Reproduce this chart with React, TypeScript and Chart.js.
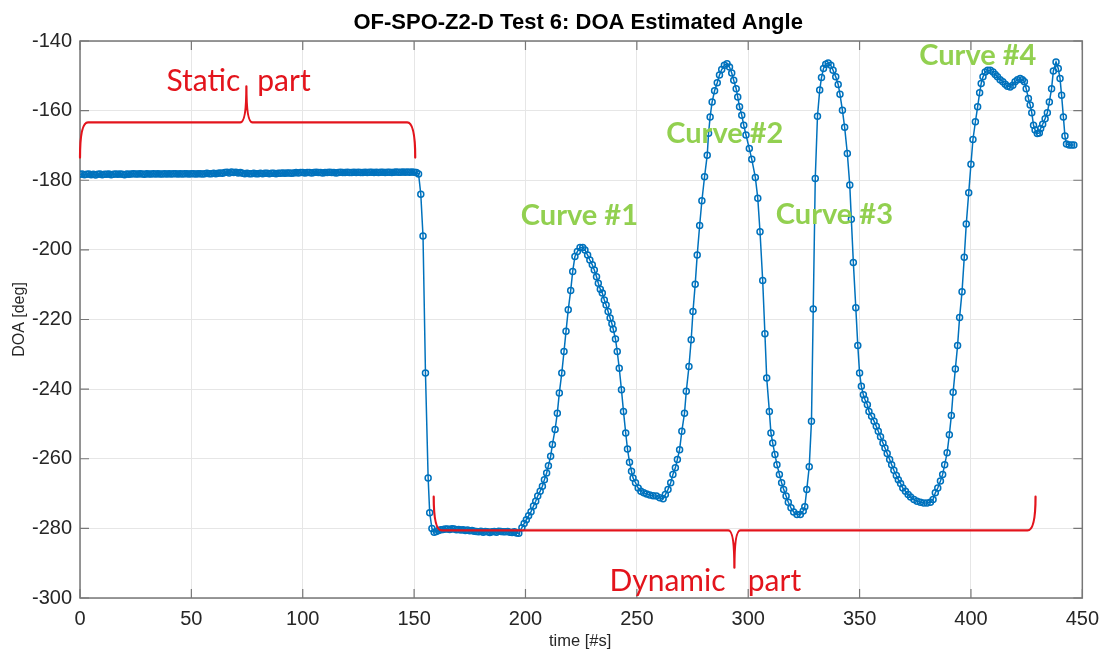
import React, { useEffect, useRef } from 'react';
import { Chart, registerables } from 'chart.js';

Chart.register(...registerables);

const chartTitle = 'OF-SPO-Z2-D Test 6: DOA Estimated Angle';
const xAxisTitle = 'time [#s]';
const yAxisTitle = 'DOA [deg]';
const xTicks = [0, 50, 100, 150, 200, 250, 300, 350, 400, 450];
const yTicks = [-300, -280, -260, -240, -220, -200, -180, -160, -140];

// Static part (one sample per second)
const staticTimes = [
  0, 1, 2, 3, 4, 5, 6, 7, 8, 9, 10, 11, 12, 13, 14, 15, 16, 17, 18, 19,
  20, 21, 22, 23, 24, 25, 26, 27, 28, 29, 30, 31, 32, 33, 34, 35, 36, 37, 38, 39,
  40, 41, 42, 43, 44, 45, 46, 47, 48, 49, 50, 51, 52, 53, 54, 55, 56, 57, 58, 59,
  60, 61, 62, 63, 64, 65, 66, 67, 68, 69, 70, 71, 72, 73, 74, 75, 76, 77, 78, 79,
  80, 81, 82, 83, 84, 85, 86, 87, 88, 89, 90, 91, 92, 93, 94, 95, 96, 97, 98, 99,
  100, 101, 102, 103, 104, 105, 106, 107, 108, 109, 110, 111, 112, 113, 114, 115, 116, 117, 118, 119,
  120, 121, 122, 123, 124, 125, 126, 127, 128, 129, 130, 131, 132, 133, 134, 135, 136, 137, 138, 139,
  140, 141, 142, 143, 144, 145, 146, 147, 148, 149, 150, 151, 152,
];
const staticDoa = [
  -178.3, -178.2, -178.4, -178.3, -178.2, -178.4, -178.3, -178.5, -178.3, -178.2,
  -178.4, -178.3, -178.3, -178.2, -178.4, -178.3, -178.2, -178.3, -178.2, -178.3,
  -178.4, -178.2, -178.3, -178.2, -178.1, -178.2, -178.2, -178.1, -178.2, -178.3,
  -178.1, -178.2, -178.2, -178.1, -178.2, -178.1, -178.2, -178.2, -178.1, -178.2,
  -178.1, -178.2, -178.1, -178.1, -178.2, -178.1, -178.2, -178.1, -178.1, -178.2,
  -178.1, -178.1, -178.2, -178.1, -178.1, -178.2, -178.1, -178.0, -178.1, -178.1,
  -178.0, -178.1, -178.0, -177.9, -178.0, -177.8, -177.7, -177.9, -177.6, -177.8,
  -177.7, -177.9, -177.8, -178.0, -178.1, -178.0, -178.1, -178.1, -178.0, -178.1,
  -178.1, -178.0, -178.1, -178.0, -178.0, -178.1, -178.0, -178.0, -178.1, -178.0,
  -178.0, -177.9, -178.0, -177.9, -177.9, -178.0, -177.9, -177.8, -177.9, -177.8,
  -177.8, -177.9, -177.8, -177.8, -177.9, -177.8, -177.7, -177.8, -177.8, -177.9,
  -177.8, -177.8, -177.7, -177.8, -177.8, -177.9, -177.8, -177.7, -177.8, -177.8,
  -177.7, -177.8, -177.8, -177.7, -177.8, -177.7, -177.8, -177.8, -177.7, -177.8,
  -177.7, -177.7, -177.8, -177.7, -177.8, -177.7, -177.7, -177.8, -177.7, -177.7,
  -177.8, -177.7, -177.6, -177.7, -177.7, -177.6, -177.7, -177.6, -177.7, -177.6,
  -177.7, -177.8, -178.2,
];

// Drop and low plateau at the start of the dynamic part
const settleTimes = [
  153, 154, 155.1, 156.3, 157, 158,
  159, 160, 161, 162, 163, 164, 165, 166, 167, 168, 169, 170, 171, 172, 173, 174,
  175, 176, 177, 178, 179, 180, 181, 182, 183, 184, 185, 186, 187, 188, 189, 190,
  191, 192, 193, 194, 195, 196, 197,
];
const settleDoa = [
  -184.0, -196.0, -235.4, -265.5, -275.5, -280.0,
  -281.1, -280.9, -280.6, -280.4, -280.3, -280.2, -280.2, -280.3, -280.1, -280.2, -280.4, -280.3, -280.5, -280.4, -280.6, -280.5,
  -280.7, -280.6, -280.8, -280.9, -281.0, -280.8, -281.1, -280.9, -281.0, -281.2, -281.0, -280.9, -281.1, -280.8, -280.9, -281.0,
  -281.0, -280.9, -281.1, -281.2, -281.0, -281.3, -281.4,
];

// Curves #1 .. #4
const curveTimes = [
  198.4, 199.4, 200.4, 201.4, 202.5, 203.6, 204.6, 205.5, 206.6, 207.6, 208.5, 209.5, 210.3, 211.3, 212.1,
  213.3, 214.3, 215.2, 216.3, 217.3, 218.2, 219.2, 220.3, 221.2, 222.2, 223.3, 224.5, 225.7, 226.7, 227.9,
  228.9, 230.0, 230.9, 231.9, 232.7, 233.6, 234.5, 235.4, 236.2, 237.1, 238.0, 238.8, 239.4, 240.4, 241.2,
  242.1, 243.1, 244.0, 245.0, 245.8, 246.7, 247.6, 248.3, 249.4, 250.6, 251.8, 253.1, 254.4, 255.8, 257.3,
  258.8, 260.3, 261.8, 262.8, 264.0, 265.2, 266.2, 267.3, 268.2, 269.2, 270.2, 271.4, 272.2, 273.4, 274.4,
  275.2, 276.2, 277.1, 278.2, 279.2, 280.4, 281.6, 282.2, 282.9, 283.8, 284.9, 286.1, 287.1, 288.1, 289.3,
  290.5, 291.6, 292.6, 293.5, 294.6, 295.3, 296.1, 297.1, 298.0, 299.0, 300.5, 301.6, 303.2, 304.3, 305.3,
  306.5, 307.5, 308.3, 309.5, 310.2, 311.0, 312.0, 312.9, 314.0, 315.0, 315.9, 317.0, 318.0, 319.2, 320.4,
  321.9, 323.4, 324.7, 325.4, 326.3, 327.4, 328.4, 329.2, 330.1, 331.1, 332.1, 332.9, 333.8, 334.8, 335.9,
  337.1, 338.1, 339.3, 340.4, 341.2, 342.3, 343.3, 344.5, 345.6, 346.3, 347.2, 348.3, 349.2, 350.0, 350.8,
  351.7, 352.4, 353.5, 354.2, 355.4, 356.5, 357.5, 358.4, 359.4, 360.5, 361.4, 362.4, 363.5, 364.4, 365.4,
  366.5, 367.4, 368.4, 369.4, 370.6, 371.8, 372.9, 374.4, 375.8, 377.3, 378.8, 380.3, 381.8, 383.0, 384.0,
  385.1, 386.3, 387.3, 388.2, 389.3, 390.3, 391.2, 392.0, 393.0, 394.0, 394.9, 396.0, 397.0, 397.9, 399.0,
  400.0, 400.9, 402.0, 403.0, 403.9, 404.6, 405.4, 406.4, 407.5, 408.7, 409.9, 410.9, 411.9, 413.1, 414.3,
  415.4, 416.4, 417.6, 418.8, 419.8, 420.9, 422.1, 423.1, 424.0, 424.8, 425.8, 426.6, 427.3, 428.1, 428.8,
  429.8, 430.7, 431.3, 432.2, 433.3, 434.3, 435.2, 436.2, 437.0, 438.2, 439.2, 440.0, 440.7, 441.5, 442.2,
  442.9, 444.1, 445.2, 446.2,
];
const curveDoa = [
  -279.8, -278.6, -277.5, -276.4, -275.2, -273.6, -272.2, -270.7, -269.3, -267.9, -266.0, -264.1, -262.0, -259.3, -255.9,
  -251.6, -246.9, -241.1, -235.4, -229.2, -223.4, -217.2, -211.7, -206.2, -201.9, -200.5, -199.3, -199.3, -200.0, -201.5,
  -202.9, -204.3, -205.8, -207.7, -209.6, -211.3, -212.4, -214.4, -215.8, -217.7, -219.6, -221.2, -222.8, -225.6, -229.2,
  -234.0, -240.2, -246.4, -252.6, -257.2, -261.0, -263.6, -265.5, -266.9, -268.4, -269.3, -269.8, -270.1, -270.4, -270.6,
  -270.7, -271.2, -271.5, -270.3, -268.8, -266.9, -264.5, -262.6, -260.2, -257.4, -252.1, -246.9, -240.6, -233.5, -225.8,
  -217.7, -209.9, -201.5, -193.0, -185.9, -179.0, -172.8, -166.5, -161.8, -157.5, -154.3, -152.0, -149.8, -148.2, -147.0,
  -146.5, -147.5, -149.2, -151.3, -153.7, -156.1, -158.9, -161.3, -164.2, -167.0, -170.9, -174.0, -179.2, -185.2, -194.8,
  -208.8, -224.1, -236.8, -246.4, -252.6, -255.5, -258.8, -261.7, -264.5, -266.9, -268.8, -270.7, -272.5, -274.1, -275.3,
  -276.0, -276.0, -275.0, -273.8, -268.8, -262.3, -249.2, -217.0, -179.5, -161.6, -154.1, -150.5, -147.9, -146.7, -146.3,
  -147.0, -148.4, -150.3, -152.5, -155.3, -159.9, -164.8, -172.3, -181.4, -191.2, -203.6, -216.6, -227.5, -235.4, -239.2,
  -241.6, -243.0, -244.5, -246.4, -247.8, -249.2, -250.7, -252.1, -253.7, -255.5, -256.9, -258.5, -260.2, -261.7, -263.3,
  -264.8, -266.0, -267.1, -268.4, -269.3, -270.3, -271.0, -271.7, -272.2, -272.5, -272.7, -272.7, -272.5, -271.7, -269.8,
  -268.4, -266.4, -264.5, -261.7, -258.3, -253.1, -247.6, -240.9, -234.2, -227.5, -219.4, -212.0, -202.1, -192.6, -183.6,
  -175.4, -168.3, -163.2, -158.9, -154.9, -152.2, -150.3, -148.9, -148.4, -148.4, -148.9, -149.6, -150.3, -151.1, -151.7,
  -152.4, -153.0, -153.2, -152.7, -151.7, -151.1, -150.8, -151.1, -151.7, -153.7, -156.5, -158.4, -160.6, -164.2, -165.6,
  -166.6, -166.4, -165.1, -163.9, -162.3, -160.6, -157.5, -153.7, -148.6, -146.0, -147.9, -150.8, -155.6, -161.8, -167.3,
  -169.6, -169.9, -169.9, -169.9,
];

// Annotation braces (data coordinates)
const braceFrom = [0, 158.8];
const braceTo = [150.5, 429];
const braceMid = [74.7, 293.8];
const braceLine = [-163.4, -280.6];
const braceTip = [-173.5, -270.9];
const braceCusp = [-153, -291.3];

const redTexts = ['Static', 'part', 'Dynamic', 'part'];
const redTextT = [72, 79.6, 289.8, 299.8];
const redTextV = [-154.4, -154.4, -298, -298];
const redTextAlign = ['right', 'left', 'right', 'left'];

const curveTexts = ['Curve #1', 'Curve #2', 'Curve #3', 'Curve #4'];
const curveTextT = [224.2, 289.5, 338.7, 403.1];
const curveTextV = [-192.8, -169.4, -192.6, -147.0];

const LINE_BLUE = '#0072BD';
const RED = '#e3141c';
const GREEN = '#92D050';
const AXIS_GRAY = '#777777';
const TEXT_DARK = '#262626';
const FONT = '"Liberation Sans", Arial, Helvetica, sans-serif';
const NOTE_FONT = 'Lato, "Open Sans", sans-serif';

const decorPlugin = {
  id: 'decor',
  beforeDatasetsDraw(chart: any) {
    const { ctx, chartArea } = chart;
    const { left, right, top, bottom } = chartArea;
    const xs = chart.scales.x;
    const ys = chart.scales.y;
    ctx.save();
    ctx.strokeStyle = AXIS_GRAY;
    ctx.lineWidth = 1.5;
    ctx.strokeRect(left, top, right - left, bottom - top);
    ctx.lineWidth = 1.2;
    ctx.beginPath();
    const tl = 9;
    xTicks.forEach((v) => {
      const x = xs.getPixelForValue(v);
      ctx.moveTo(x, bottom);
      ctx.lineTo(x, bottom - tl);
      ctx.moveTo(x, top);
      ctx.lineTo(x, top + tl);
    });
    yTicks.forEach((v) => {
      const y = ys.getPixelForValue(v);
      ctx.moveTo(left, y);
      ctx.lineTo(left + tl, y);
      ctx.moveTo(right, y);
      ctx.lineTo(right - tl, y);
    });
    ctx.stroke();
    ctx.restore();
  },
  afterDatasetsDraw(chart: any) {
    const { ctx } = chart;
    const xs = chart.scales.x;
    const ys = chart.scales.y;
    const px = (v: number) => xs.getPixelForValue(v);
    const py = (v: number) => ys.getPixelForValue(v);
    ctx.save();
    ctx.strokeStyle = RED;
    ctx.lineWidth = 2.2;
    ctx.lineJoin = 'round';
    ctx.lineCap = 'round';
    for (let i = 0; i < braceFrom.length; i++) {
      const x0 = px(braceFrom[i]);
      const x1 = px(braceTo[i]);
      const xm = px(braceMid[i]);
      const yl = py(braceLine[i]);
      const yt = py(braceTip[i]);
      const yc = py(braceCusp[i]);
      const r = 8;
      const rc = 6;
      ctx.beginPath();
      ctx.moveTo(x0, yt);
      ctx.quadraticCurveTo(x0, yl, x0 + r, yl);
      ctx.lineTo(xm - rc, yl);
      ctx.quadraticCurveTo(xm, yl, xm, yc);
      ctx.quadraticCurveTo(xm, yl, xm + rc, yl);
      ctx.lineTo(x1 - r, yl);
      ctx.quadraticCurveTo(x1, yl, x1, yt);
      ctx.stroke();
    }
    ctx.fillStyle = RED;
    ctx.font = `30px ${NOTE_FONT}`;
    ctx.textBaseline = 'alphabetic';
    redTexts.forEach((t, i) => {
      ctx.textAlign = redTextAlign[i] as CanvasTextAlign;
      ctx.fillText(t, px(redTextT[i]), py(redTextV[i]));
    });
    ctx.fillStyle = GREEN;
    ctx.font = `bold 29px ${NOTE_FONT}`;
    ctx.textAlign = 'center';
    curveTexts.forEach((t, i) => {
      ctx.fillText(t, px(curveTextT[i]), py(curveTextV[i]));
    });
    ctx.restore();
  },
  afterDraw(chart: any) {
    const { ctx, chartArea } = chart;
    const { left, right, top, bottom } = chartArea;
    const cx = (left + right) / 2;
    const cy = (top + bottom) / 2;
    ctx.save();
    ctx.fillStyle = '#000000';
    ctx.font = `bold 22px ${FONT}`;
    ctx.textAlign = 'center';
    ctx.textBaseline = 'alphabetic';
    ctx.fillText(chartTitle, cx - 3, top - 12);
    ctx.fillStyle = TEXT_DARK;
    ctx.font = `16.5px ${FONT}`;
    ctx.textBaseline = 'middle';
    ctx.fillText(xAxisTitle, cx - 1, bottom + 43);
    ctx.translate(20, cy);
    ctx.rotate(-Math.PI / 2);
    ctx.font = `16px ${FONT}`;
    ctx.fillText(yAxisTitle, 0, 0);
    ctx.restore();
  },
};

export default function App() {
  const canvasRef = useRef<HTMLCanvasElement | null>(null);

  useEffect(() => {
    if (!canvasRef.current) return;
    const times = [...staticTimes, ...settleTimes, ...curveTimes];
    const doa = [...staticDoa, ...settleDoa, ...curveDoa];
    const points = times.map((t, i) => ({ x: t, y: doa[i] }));

    const chart = new Chart(canvasRef.current, {
      type: 'scatter',
      data: {
        datasets: [
          {
            label: 'DOA',
            data: points,
            showLine: true,
            borderColor: LINE_BLUE,
            borderWidth: 1.5,
            pointStyle: 'circle',
            pointRadius: 3,
            pointBorderWidth: 1.5,
            pointBorderColor: LINE_BLUE,
            pointBackgroundColor: 'rgba(0,0,0,0)',
            tension: 0,
          },
        ],
      },
      options: {
        animation: false,
        responsive: false,
        maintainAspectRatio: false,
        layout: { padding: { top: 41, right: 21, left: 0, bottom: 0 } },
        plugins: {
          legend: { display: false },
          tooltip: { enabled: false },
          title: { display: false },
        },
        scales: {
          x: {
            type: 'linear',
            min: 0,
            max: 450,
            afterBuildTicks: (scale: any) => {
              scale.ticks = xTicks.map((v) => ({ value: v }));
            },
            afterFit: (scale: any) => {
              scale.height = 53;
            },
            grid: { color: '#e6e6e6', lineWidth: 1, drawTicks: false },
            border: { display: false },
            ticks: {
              padding: 9,
              color: TEXT_DARK,
              font: { family: FONT, size: 20 },
              maxRotation: 0,
              autoSkip: false,
            },
          },
          y: {
            type: 'linear',
            min: -300,
            max: -140,
            afterBuildTicks: (scale: any) => {
              scale.ticks = yTicks.map((v) => ({ value: v }));
            },
            afterFit: (scale: any) => {
              scale.width = 80;
            },
            grid: { color: '#e6e6e6', lineWidth: 1, drawTicks: false },
            border: { display: false },
            ticks: {
              padding: 8,
              color: TEXT_DARK,
              font: { family: FONT, size: 20 },
              autoSkip: false,
              callback: (v: any) => String(v),
            },
          },
        },
      },
      plugins: [decorPlugin],
    });
    return () => chart.destroy();
  }, []);

  return (
    <div style={{ position: 'absolute', left: 0, top: 0, width: 1108, height: 651, background: '#ffffff' }}>
      <canvas ref={canvasRef} width={1108} height={651} style={{ display: 'block', width: 1108, height: 651 }} />
    </div>
  );
}
